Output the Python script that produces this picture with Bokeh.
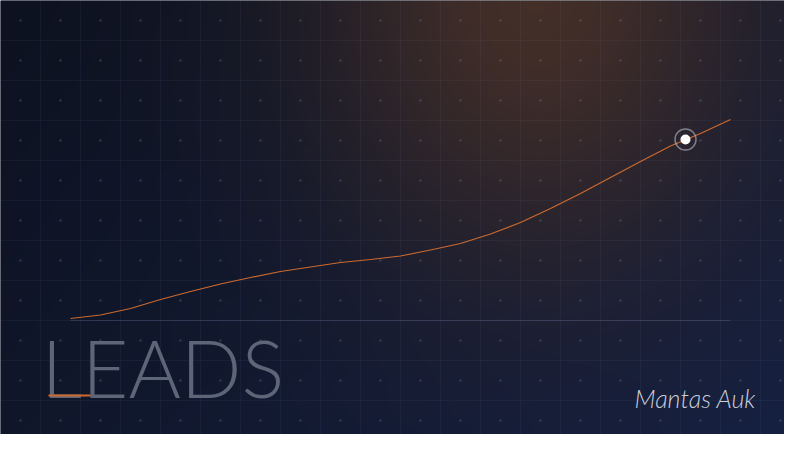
import numpy as np
from bokeh.plotting import figure
from bokeh.models import Range1d, FixedTicker, Grid, Label
from bokeh.embed import file_html
from bokeh.resources import INLINE

# ---------------- data ----------------
periods = list(range(23))
leads = [1, 2.75, 6, 10.5, 14.5, 18.25, 21.5, 24.5, 26.75, 29, 30.5, 32.25,
         35.25, 38.5, 43.25, 49, 56, 63.5, 71.5, 79.5, 87.25, 93.5, 100.5]
highlight_period = [20.5]
highlight_leads = [90.5]
title_text = "LEADS"
signature_text = "Mantas Auk"

# ---------------- geometry (reference pixels) ----------------
W, H = 784, 434
PX0, PXS = 70.0, 30.0   # pixel of period 0, pixels per period
PY0, PYS = 320.0, 2.0   # pixel of 0 leads, pixels per lead


def xd(px):
    return (px - PX0) / PXS


def yd(py):
    return (PY0 - py) / PYS


p = figure(width=W, height=H, output_backend="svg", toolbar_location=None,
           x_range=Range1d(xd(0), xd(W)), y_range=Range1d(yd(H), yd(0)),
           x_axis_type=None, y_axis_type=None, min_border=0)
p.outline_line_color = None
p.background_fill_color = "#0f1528"
p.border_fill_color = "#0f1528"

# ---------------- background gradient ----------------
xs = np.arange(W) + 0.5
ys = np.arange(H) + 0.5
X, Y = np.meshgrid(xs, ys)
u = (X / 800.0)[..., None]
v = (Y / 450.0)[..., None]
TL = np.array([13, 18, 32], float)
TR = np.array([20, 26, 48], float)
BL = np.array([16, 23, 43], float)
BR = np.array([21, 32, 66], float)
base = TL * (1 - u) * (1 - v) + TR * u * (1 - v) + BL * (1 - u) * v + BR * u * v
glow_col = np.array([70, 48, 40], float)
a = 0.95 * np.exp(-((X - 535) / 155.0) ** 2 / 2 - ((Y + 10) / 190.0) ** 2 / 2)
a = a[..., None]
col = base * (1 - a) + glow_col * a
col = np.clip(col, 0, 255).astype(np.uint8)
img = np.empty((H, W), dtype=np.uint32)
view = img.view(dtype=np.uint8).reshape((H, W, 4))
view[..., 0] = col[..., 0]
view[..., 1] = col[..., 1]
view[..., 2] = col[..., 2]
view[..., 3] = 255
img = img[::-1]
p.image_rgba(image=[img], x=xd(0), y=yd(H), dw=xd(W) - xd(0), dh=yd(0) - yd(H),
             level="image")

# ---------------- grid ----------------
gx = [xd(px) for px in range(40, 800, 40)]
gy = [yd(py) for py in range(40, 450, 40)]
p.add_layout(Grid(dimension=0, ticker=FixedTicker(ticks=gx),
                  grid_line_color="#a0aed8", grid_line_alpha=0.06, grid_line_width=1))
p.add_layout(Grid(dimension=1, ticker=FixedTicker(ticks=gy),
                  grid_line_color="#a0aed8", grid_line_alpha=0.06, grid_line_width=1))
dx, dy = [], []
for px in range(20, 800, 40):
    for py in range(20, 450, 40):
        dx.append(xd(px))
        dy.append(yd(py))
p.scatter(dx, dy, size=2.6, fill_color="#8a94b4", fill_alpha=0.25, line_color=None)

# ---------------- baseline ----------------
p.segment(x0=[periods[0]], y0=[0], x1=[periods[-1]], y1=[0],
          line_color="#8a96c0", line_alpha=0.22, line_width=1)

# ---------------- series ----------------
p.line(periods, leads, line_color="#cc6a2e", line_width=1.2)
p.scatter(highlight_period, highlight_leads, size=21, fill_color=None,
          line_color="#c4c8d6", line_alpha=0.55, line_width=1.5)
p.scatter(highlight_period, highlight_leads, size=10, fill_color="white", line_color=None)

# ---------------- texts ----------------
p.add_layout(Label(x=xd(41), y=yd(366), text=title_text, text_font="Lato Light",
                   text_font_size="80px", text_color="#5d6578",
                   text_baseline="middle", text_align="left"))
p.segment(x0=[xd(48)], y0=[yd(395)], x1=[xd(90)], y1=[yd(395)],
          line_color="#d06a2c", line_width=2, level="overlay")
p.add_layout(Label(x=xd(634), y=yd(397), text=signature_text, text_font="Lato Light",
                   text_font_style="italic", text_font_size="25px", text_color="#c9cdda",
                   text_baseline="middle", text_align="left"))

open("out.html", "w").write(file_html(p, INLINE))
